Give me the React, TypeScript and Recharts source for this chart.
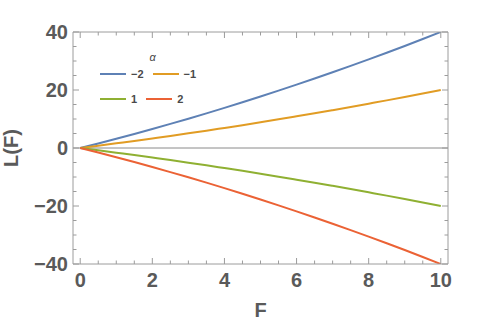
import React from 'react';
import { LineChart, Line, XAxis, YAxis, ReferenceLine, Label } from 'recharts';

// F values (x axis)
const fValues = [0, 0.5, 1, 1.5, 2, 2.5, 3, 3.5, 4, 4.5, 5, 5.5, 6, 6.5, 7, 7.5, 8, 8.5, 9, 9.5, 10];

// L(F) for each alpha
const alphaNeg2 = [0, 1.57, 3.19, 4.85, 6.56, 8.31, 10.11, 11.95, 13.84, 15.77, 17.75, 19.77, 21.84, 23.95, 26.11, 28.31, 30.56, 32.85, 35.19, 37.57, 40];
const alphaNeg1 = [0, 0.78, 1.6, 2.42, 3.28, 4.15, 5.05, 5.97, 6.92, 7.88, 8.87, 9.88, 10.92, 11.97, 13.05, 14.15, 15.28, 16.42, 17.59, 18.78, 20];
const alphaPos1 = [0, -0.78, -1.6, -2.42, -3.28, -4.15, -5.05, -5.97, -6.92, -7.88, -8.87, -9.88, -10.92, -11.97, -13.05, -14.15, -15.28, -16.42, -17.59, -18.78, -20];
const alphaPos2 = [0, -1.57, -3.19, -4.85, -6.56, -8.31, -10.11, -11.95, -13.84, -15.77, -17.75, -19.77, -21.84, -23.95, -26.11, -28.31, -30.56, -32.85, -35.19, -37.57, -40];

const xMajorTicks = [0, 2, 4, 6, 8, 10];
const xAllTicks = [0, 0.5, 1, 1.5, 2, 2.5, 3, 3.5, 4, 4.5, 5, 5.5, 6, 6.5, 7, 7.5, 8, 8.5, 9, 9.5, 10];
const yMajorTicks = [-40, -20, 0, 20, 40];
const yAllTicks = [-40, -35, -30, -25, -20, -15, -10, -5, 0, 5, 10, 15, 20, 25, 30, 35, 40];

const series = [
  { key: 'am2', label: '\u22122', color: '#5e81b5', values: alphaNeg2 },
  { key: 'am1', label: '\u22121', color: '#e19c24', values: alphaNeg1 },
  { key: 'ap1', label: '1', color: '#8fb032', values: alphaPos1 },
  { key: 'ap2', label: '2', color: '#eb6235', values: alphaPos2 },
];

const data = fValues.map((f, i) => {
  const row: Record<string, number> = { F: f };
  series.forEach((s) => (row[s.key] = s.values[i]));
  return row;
});

const FRAME = '#9c9c9c';
const TEXT = '#5a5a5a';
const FONT = '"Liberation Sans", Arial, sans-serif';

const fmt = (v: number) => (v < 0 ? `\u2212${-v}` : `${v}`);

function BottomTick({ x, y, payload }: any) {
  const major = xMajorTicks.includes(payload.value);
  return (
    <g>
      <line x1={x} x2={x} y1={y} y2={y - (major ? 6 : 3.5)} stroke={FRAME} />
      {major && (
        <text x={x} y={y + 23} textAnchor="middle" fill={TEXT} fontSize={20} fontWeight="bold" fontFamily={FONT}>
          {fmt(payload.value)}
        </text>
      )}
    </g>
  );
}

function TopTick({ x, y, payload }: any) {
  const major = xMajorTicks.includes(payload.value);
  return <line x1={x} x2={x} y1={y} y2={y + (major ? 6 : 3.5)} stroke={FRAME} />;
}

function LeftTick({ x, y, payload }: any) {
  const major = yMajorTicks.includes(payload.value);
  return (
    <g>
      <line x1={x} x2={x + (major ? 6 : 3.5)} y1={y} y2={y} stroke={FRAME} />
      {major && (
        <text x={x - 5} y={y + 7} textAnchor="end" fill={TEXT} fontSize={20} fontWeight="bold" fontFamily={FONT}>
          {fmt(payload.value)}
        </text>
      )}
    </g>
  );
}

function RightTick({ x, y, payload }: any) {
  const major = yMajorTicks.includes(payload.value);
  return <line x1={x} x2={x - (major ? 6 : 3.5)} y1={y} y2={y} stroke={FRAME} />;
}

function AlphaLegend() {
  const rows = [series.slice(0, 2), series.slice(2, 4)];
  return (
    <div
      style={{
        position: 'absolute',
        left: 100,
        top: 49,
        fontFamily: FONT,
        fontSize: 11,
        color: '#4a4a4a',
      }}
    >
      <div style={{ height: 16, lineHeight: '16px', textAlign: 'center', fontStyle: 'italic' }}>α</div>
      {rows.map((row, ri) => (
        <div key={ri} style={{ display: 'flex', alignItems: 'center', height: 17, marginTop: ri ? 8 : 0 }}>
          {row.map((s) => (
            <div key={s.key} style={{ display: 'flex', alignItems: 'center', marginRight: 9 }}>
              <span style={{ display: 'inline-block', width: 26, height: 2, background: s.color, marginRight: 5 }} />
              <span style={{ fontWeight: 'bold' }}>{s.label}</span>
            </div>
          ))}
        </div>
      ))}
    </div>
  );
}

export default function App() {
  return (
    <div style={{ position: 'relative', width: 480, height: 324, background: '#fff' }}>
      <style>{'body{margin:0}'}</style>
      <LineChart width={480} height={324} data={data} margin={{ top: 0, right: 0, bottom: 0, left: 0 }}>
        <XAxis
          dataKey="F"
          type="number"
          domain={[-0.2, 10.2]}
          allowDataOverflow
          ticks={xAllTicks}
          interval={0}
          tickLine={false}
          tickSize={0}
          tickMargin={0}
          tick={(p: any) => <BottomTick {...p} />}
          axisLine={{ stroke: FRAME }}
          height={60}
        >
          <Label
            content={({ viewBox }: any) => (
              <text
                x={viewBox.x + viewBox.width / 2}
                y={viewBox.y + 53}
                textAnchor="middle"
                fill={TEXT}
                fontSize={20}
                fontWeight="bold"
                fontFamily={FONT}
              >
                F
              </text>
            )}
          />
        </XAxis>
        <XAxis
          xAxisId="top"
          orientation="top"
          dataKey="F"
          type="number"
          domain={[-0.2, 10.2]}
          allowDataOverflow
          ticks={xAllTicks}
          interval={0}
          tickLine={false}
          tickSize={0}
          tickMargin={0}
          tick={(p: any) => <TopTick {...p} />}
          axisLine={{ stroke: FRAME }}
          height={32}
        />
        <YAxis
          type="number"
          domain={[-40, 40]}
          allowDataOverflow
          ticks={yAllTicks}
          interval={0}
          tickLine={false}
          tickSize={0}
          tickMargin={0}
          tick={(p: any) => <LeftTick {...p} />}
          axisLine={{ stroke: FRAME }}
          width={73}
        >
          <Label
            content={({ viewBox }: any) => {
              const cx = 18;
              const cy = viewBox.y + viewBox.height / 2;
              return (
                <text
                  x={cx}
                  y={cy}
                  transform={`rotate(-90 ${cx} ${cy})`}
                  textAnchor="middle"
                  fill={TEXT}
                  fontSize={20}
                  fontWeight="bold"
                  fontFamily={FONT}
                >
                  L(F)
                </text>
              );
            }}
          />
        </YAxis>
        <YAxis
          yAxisId="right"
          orientation="right"
          type="number"
          domain={[-40, 40]}
          allowDataOverflow
          ticks={yAllTicks}
          interval={0}
          tickLine={false}
          tickSize={0}
          tickMargin={0}
          tick={(p: any) => <RightTick {...p} />}
          axisLine={{ stroke: FRAME }}
          width={32}
        />
        <ReferenceLine y={0} stroke="#8a8a8a" strokeWidth={1} />
        {series.map((s) => (
          <Line
            key={s.key}
            dataKey={s.key}
            type="monotone"
            stroke={s.color}
            strokeWidth={2}
            dot={false}
            isAnimationActive={false}
          />
        ))}
      </LineChart>
      <AlphaLegend />
    </div>
  );
}
